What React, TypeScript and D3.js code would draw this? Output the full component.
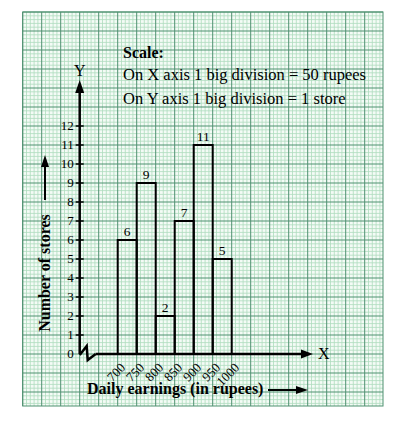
import React from 'react'
import * as d3 from 'd3'

const binStarts = [700, 750, 800, 850, 900, 950]
const binWidth = 50
const storeCounts = [6, 9, 2, 7, 11, 5]
const xTickLabels = ['700', '750', '800', '850', '900', '950', '1000']
const yTickLabels = ['0', '1', '2', '3', '4', '5', '6', '7', '8', '9', '10', '11', '12']
const scaleLines = [
  'On X axis 1 big division = 50 rupees',
  'On Y axis 1 big division = 1 store'
]

const W = 399
const H = 428
const font = 'Liberation Serif, DejaVu Serif, serif'

export default function App() {
  const big = 19
  const gridLeft = 22.7
  const gridTop = 12
  const gridRight = 383
  const gridBottom = 406

  const x0 = 79.7
  const y0 = 354

  // earnings axis starts at 600 (hidden by the kink)
  const xScale = d3.scaleLinear().domain([600, 1000]).range([x0, x0 + 8 * big])
  const yScale = d3.scaleLinear().domain([0, 12]).range([y0, y0 - 12 * big])

  const small = big / 5
  const vLines = d3.range(0, Math.floor((gridRight - gridLeft) / small) + 1).map(i => ({
    x: gridLeft + i * small,
    major: i % 5 === 0
  }))
  const hLines = d3.range(0, Math.floor((gridBottom - gridTop) / small) + 1).map(i => ({
    y: gridTop + i * small,
    major: i % 5 === 0
  }))

  const minorColor = '#afdcbe'
  const majorColor = '#4f9170'

  return (
    <svg width={W} height={H} style={{ position: 'absolute', left: 0, top: 0, background: '#fff' }}>
      <rect x={gridLeft} y={gridTop} width={gridRight - gridLeft} height={gridBottom - gridTop} fill="#f4fbf6" />
      {vLines.filter(l => !l.major).map((l, i) => (
        <line key={`vm${i}`} x1={l.x} x2={l.x} y1={gridTop} y2={gridBottom} stroke={minorColor} strokeWidth={0.8} />
      ))}
      {hLines.filter(l => !l.major).map((l, i) => (
        <line key={`hm${i}`} y1={l.y} y2={l.y} x1={gridLeft} x2={gridRight} stroke={minorColor} strokeWidth={0.8} />
      ))}
      {vLines.filter(l => l.major).map((l, i) => (
        <line key={`vM${i}`} x1={l.x} x2={l.x} y1={gridTop} y2={gridBottom} stroke={majorColor} strokeWidth={1} />
      ))}
      {hLines.filter(l => l.major).map((l, i) => (
        <line key={`hM${i}`} y1={l.y} y2={l.y} x1={gridLeft} x2={gridRight} stroke={majorColor} strokeWidth={1} />
      ))}
      <rect x={gridLeft} y={gridTop} width={gridRight - gridLeft} height={gridBottom - gridTop} fill="none" stroke={majorColor} strokeWidth={1} />

      {/* scale note */}
      <text x={123} y={58} fontFamily={font} fontSize={16} fontWeight="bold">Scale:</text>
      {scaleLines.map((s, i) => (
        <text key={s} x={123} y={80 + i * 24} fontFamily={font} fontSize={16.5}>{s}</text>
      ))}

      {/* bars */}
      {binStarts.map((b, i) => (
        <g key={`bar${b}`}>
          <rect
            x={xScale(b)}
            y={yScale(storeCounts[i])}
            width={xScale(b + binWidth) - xScale(b)}
            height={y0 - yScale(storeCounts[i])}
            fill="none"
            stroke="#000"
            strokeWidth={2}
          />
          <text
            x={xScale(b + binWidth / 2)}
            y={yScale(storeCounts[i]) - 4}
            textAnchor="middle"
            fontFamily={font}
            fontSize={13.5}
          >{storeCounts[i]}</text>
        </g>
      ))}

      {/* y axis */}
      <line x1={x0} x2={x0} y1={y0} y2={90} stroke="#000" strokeWidth={2.5} />
      <path d={`M${x0},80 L${x0 - 4.5},93 L${x0 + 4.5},93 Z`} fill="#000" />
      <text x={x0} y={76} textAnchor="middle" fontFamily={font} fontSize={16}>Y</text>
      {yTickLabels.map((t, i) => (
        <g key={`yt${t}`}>
          {i > 0 && <line x1={x0 - 4} x2={x0 + 4} y1={yScale(i)} y2={yScale(i)} stroke="#000" strokeWidth={1.5} />}
          <text x={x0 - 6} y={yScale(i) + 4} textAnchor="end" fontFamily={font} fontSize={13}>{t}</text>
        </g>
      ))}

      {/* x axis with kink */}
      <path
        d={`M${x0},${y0 + 1} L${x0 + 7},${y0 - 8} L${x0 + 8},${y0 + 6} L${x0 + 16},${y0}`}
        fill="none"
        stroke="#000"
        strokeWidth={2.5}
        strokeLinejoin="miter"
      />
      <line x1={x0 + 16} x2={305} y1={y0} y2={y0} stroke="#000" strokeWidth={2.5} />
      <path d={`M313,${y0} L301,${y0 - 4.5} L301,${y0 + 4.5} Z`} fill="#000" />
      <text x={318} y={y0 + 5} fontFamily={font} fontSize={16}>X</text>
      {xTickLabels.map(t => (
        <text
          key={`xt${t}`}
          transform={`translate(${xScale(+t) + 2},${y0 + 8}) rotate(-45)`}
          textAnchor="end"
          dy="0.7em"
          fontFamily={font}
          fontSize={13}
        >{t}</text>
      ))}

      {/* axis titles */}
      <text
        transform={`translate(50,${273}) rotate(-90)`}
        textAnchor="middle"
        fontFamily={font}
        fontSize={16}
        fontWeight="bold"
      >Number of stores</text>
      <line x1={45} x2={45} y1={200} y2={165} stroke="#000" strokeWidth={2} />
      <path d="M45,155 L41,167 L49,167 Z" fill="#000" />

      <text x={87} y={394} fontFamily={font} fontSize={16} fontWeight="bold">Daily earnings (in rupees)</text>
      <line x1={268} x2={298} y1={390} y2={390} stroke="#000" strokeWidth={2} />
      <path d="M308,390 L296,386 L296,394 Z" fill="#000" />
    </svg>
  )
}
